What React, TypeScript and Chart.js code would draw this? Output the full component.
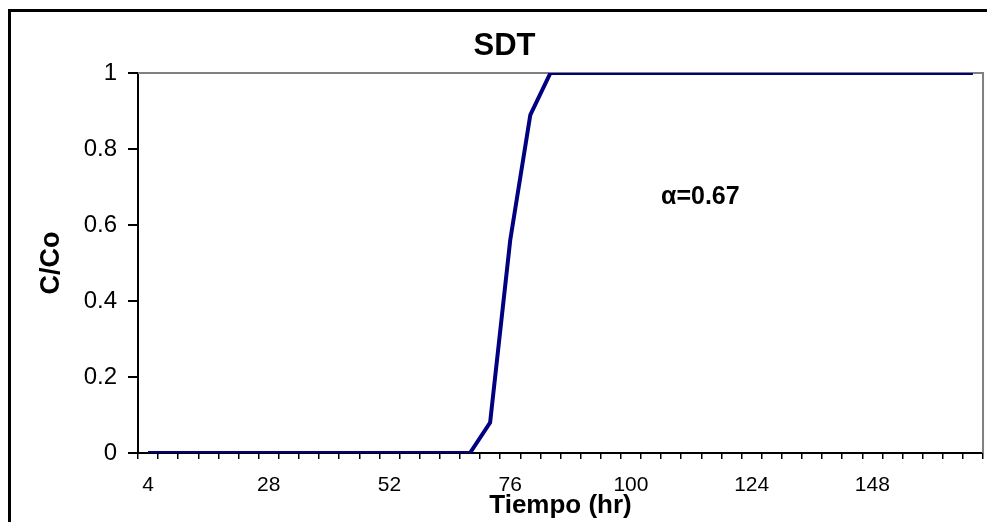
import React, { useEffect, useRef } from 'react';
import { Chart, registerables } from 'chart.js';

Chart.register(...registerables);

// ---- data ----
const hours = [
  4, 8, 12, 16, 20, 24, 28, 32, 36, 40, 44, 48, 52, 56, 60, 64, 68, 72, 76, 80, 84,
  88, 92, 96, 100, 104, 108, 112, 116, 120, 124, 128, 132, 136, 140, 144, 148, 152,
  156, 160, 164, 168,
];
const cOverCo = [
  0, 0, 0, 0, 0, 0, 0, 0, 0, 0, 0, 0, 0, 0, 0, 0, 0, 0.08, 0.56, 0.89, 1,
  1, 1, 1, 1, 1, 1, 1, 1, 1, 1, 1, 1, 1, 1, 1, 1, 1, 1, 1, 1, 1,
];
const xTickLabels = [4, 28, 52, 76, 100, 124, 148];
const chartTitle = 'SDT';
const xTitle = 'Tiempo (hr)';
const yTitle = 'C/Co';
const annotationText = 'α=0.67';
const annotationIndex = 27.45;
const annotationValue = 0.674;

const FONT = '"Liberation Sans", Arial, Helvetica, sans-serif';

const framePlugin = {
  id: 'frameAndNote',
  beforeDatasetsDraw(chart: any) {
    const { ctx, chartArea } = chart;
    const { left, top, right, bottom } = chartArea;
    ctx.save();
    ctx.strokeStyle = '#808080';
    ctx.lineWidth = 2;
    ctx.beginPath();
    ctx.moveTo(left, top);
    ctx.lineTo(right, top);
    ctx.lineTo(right, bottom);
    ctx.stroke();
    ctx.restore();
  },
  afterDraw(chart: any) {
    const { ctx } = chart;
    const x = chart.scales.x.getPixelForValue(annotationIndex);
    const y = chart.scales.y.getPixelForValue(annotationValue);
    ctx.save();
    ctx.fillStyle = '#000';
    ctx.font = `bold 25px ${FONT}`;
    ctx.textAlign = 'center';
    ctx.textBaseline = 'middle';
    ctx.fillText(annotationText, x, y);
    ctx.restore();
  },
};

export default function App() {
  const canvasRef = useRef<HTMLCanvasElement | null>(null);

  useEffect(() => {
    if (!canvasRef.current) return;
    Chart.defaults.font.family = FONT;
    Chart.defaults.color = '#000';
    const chart = new Chart(canvasRef.current, {
      type: 'line',
      data: {
        labels: hours.map(String),
        datasets: [
          {
            data: cOverCo,
            borderColor: '#000080',
            backgroundColor: '#000080',
            borderWidth: 4,
            pointRadius: 0,
            tension: 0,
            fill: false,
          },
        ],
      },
      options: {
        responsive: false,
        maintainAspectRatio: false,
        animation: false,
        devicePixelRatio: 1,
        layout: { padding: { left: 25, right: 3, top: 0, bottom: 0 } },
        plugins: {
          legend: { display: false },
          tooltip: { enabled: false },
          title: {
            display: true,
            text: chartTitle,
            color: '#000',
            font: { family: FONT, size: 31, weight: 'bold' },
            padding: { top: 28, bottom: 7.8 },
          },
        },
        scales: {
          x: {
            type: 'category',
            offset: true,
            grid: {
              offset: true,
              drawOnChartArea: false,
              drawTicks: true,
              tickLength: 6,
              color: '#000',
              lineWidth: 1.5,
            },
            border: { display: true, color: '#000', width: 2 },
            ticks: {
              autoSkip: false,
              maxRotation: 0,
              minRotation: 0,
              padding: 14,
              color: '#000',
              font: { family: FONT, size: 21 },
              callback: (_v: any, i: number) =>
                xTickLabels.includes(hours[i]) ? String(hours[i]) : '',
            },
            title: {
              display: true,
              text: xTitle,
              color: '#000',
              font: { family: FONT, size: 26, weight: 'bold' },
              padding: { top: 0, bottom: 0.4 },
            },
            afterFit: (s: any) => {
              s.height = 69;
            },
          },
          y: {
            min: 0,
            max: 1,
            ticks: {
              stepSize: 0.2,
              padding: 11,
              color: '#000',
              font: { family: FONT, size: 24 },
              callback: (v: any) => String(Number(Number(v).toFixed(1))),
            },
            grid: {
              drawOnChartArea: false,
              drawTicks: true,
              tickLength: 10,
              color: '#000',
              lineWidth: 2,
            },
            border: { display: true, color: '#000', width: 2 },
            title: {
              display: true,
              text: yTitle,
              color: '#000',
              font: { family: FONT, size: 27, weight: 'bold' },
              padding: { top: 10.8, bottom: 0 },
            },
            afterFit: (s: any) => {
              s.width = 113;
            },
          },
        },
      },
      plugins: [framePlugin],
    } as any);
    return () => chart.destroy();
  }, []);

  return (
    <div
      style={{
        position: 'fixed',
        left: 0,
        top: 0,
        width: 987,
        height: 522,
        overflow: 'hidden',
        background: '#fff',
      }}
    >
      <div
        style={{
          position: 'absolute',
          left: 8,
          top: 9,
          width: 1100,
          height: 600,
          border: '3px solid #000',
          boxSizing: 'border-box',
        }}
      />
      <canvas
        ref={canvasRef}
        width={987}
        height={522}
        style={{ position: 'absolute', left: 0, top: 0, width: 987, height: 522 }}
      />
    </div>
  );
}
